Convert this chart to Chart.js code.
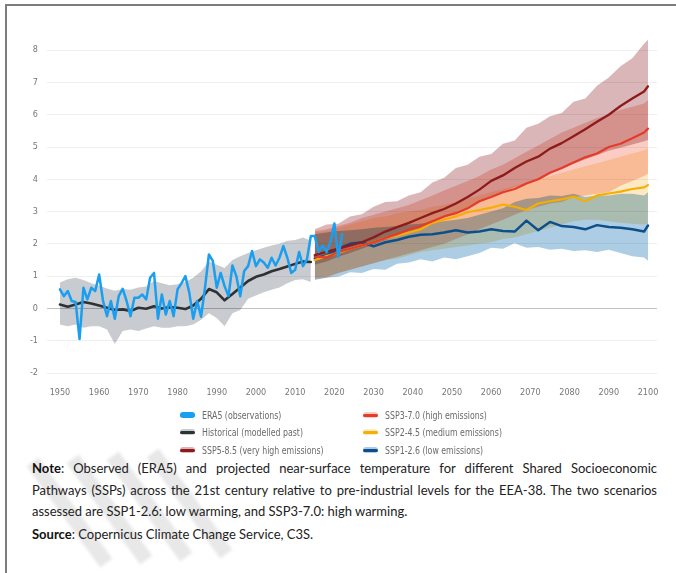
<!DOCTYPE html>
<html>
<head>
<meta charset="utf-8">
<script src="https://cdn.jsdelivr.net/npm/chart.js@4.4.1/dist/chart.umd.min.js"></script>
<style>
  html, body { margin: 0; padding: 0; background: #fff; }
  #page { position: relative; width: 676px; height: 573px; overflow: hidden; }
  #frame { position: absolute; left: 5px; top: 4px; right: -4px; bottom: -4px; border-top: 2px solid #7d7d7d; border-left: 2px solid #7d7d7d; }
  #c { position: absolute; left: 0; top: 0; }
  .wm { position: absolute; width: 15px; height: 125px; background: #e8e8e8; transform: rotate(-36deg); filter: blur(1.5px); }
  .lg { position: absolute; height: 12px; display: flex; align-items: center; font-family: 'DejaVu Sans Condensed', 'DejaVu Sans', sans-serif; font-size: 10px; color: #6a6a6a; white-space: nowrap; }
  .lg span.t { display: inline-block; transform: scaleX(0.87); transform-origin: 0 50%; }
  .sw { position: relative; width: 15px; height: 6px; border-radius: 3px; margin-right: 7px; }
  .sw i { position: absolute; left: 0; right: 0; top: 1.5px; height: 3px; border-radius: 2px; }
  #note { position: absolute; left: 32px; top: 458px; width: 625px; font-family: Lato, 'Open Sans', sans-serif; font-size: 13px; line-height: 21.5px; color: #222; }
  #note .j { text-align: justify; text-align-last: justify; }
  #note b { font-weight: 700; color: #111; }
  #note .src { margin-top: 1.5px; }
</style>
</head>
<body>
<div id="page">
  <div id="frame"></div>
  <div class="wm" style="left:62px;top:450px"></div>
  <div class="wm" style="left:102px;top:447px"></div>
  <div class="wm" style="left:142px;top:444px"></div>
  <div class="wm" style="left:182px;top:441px"></div>
  <canvas id="c" width="676" height="400"></canvas>
  <div id="legend"></div>
  <div id="note">
    <div class="j"><b>Note</b>: Observed (ERA5) and projected near-surface temperature for different Shared Socioeconomic</div>
    <div class="j">Pathways (SSPs) across the 21st century relative to pre-industrial levels for the EEA-38. The two scenarios</div>
    <div>assessed are SSP1-2.6: low warming, and SSP3-7.0: high warming.</div>
    <div class="src"><b>Source</b>: Copernicus Climate Change Service, C3S.</div>
  </div>
</div>
<script>
// axis ticks
var xTicks = [1950, 1960, 1970, 1980, 1990, 2000, 2010, 2020, 2030, 2040, 2050, 2060, 2070, 2080, 2090, 2100];
var yTicks = [-2, -1, 0, 1, 2, 3, 4, 5, 6, 7, 8];

// ERA5 observations, one value per year from 1950
var eraStart = 1950;
var era5 = [0.59, 0.38, 0.54, 0.23, 0.2, -0.95, 0.64, 0.28, 0.64, 0.54,
            1.05, 0.23, -0.24, 0.23, -0.32, 0.38, 0.61, 0.23, -0.24, 0.33,
            0.33, 0.43, 0.28, 0.95, 1.1, -0.32, 0.43, -0.19, 0.23, -0.24,
            0.59, 0.78, 1.0, 0.49, -0.32, 0.23, -0.26, 0.64, 1.67, 1.47,
            0.64, 1.1, 0.69, 0.38, 1.33, 1.0, 0.38, 1.16, 1.31, 1.78,
            1.31, 1.52, 1.42, 1.26, 1.57, 1.33, 1.57, 1.93, 1.57, 1.1,
            1.2, 1.75, 1.31, 1.52, 2.24, 2.24, 1.75, 1.95, 1.75, 2.05,
            2.63, 1.6, 2.3];

// Historical (modelled past)
var histYears = [1950, 1952, 1954, 1956, 1958, 1960, 1962, 1964, 1966, 1968, 1970, 1972, 1974, 1976, 1978, 1980, 1982,
                 1984, 1986, 1988, 1990, 1992, 1994, 1996, 1998, 2000, 2002, 2004, 2006, 2008, 2010, 2012, 2014];
var histMid = [0.12, 0.05, 0.12, 0.2, 0.15, 0.09, 0.02, -0.05, -0.03, -0.08, 0.02, -0.01, 0.07, 0.0, 0.04, 0.02, -0.02,
               0.09, 0.3, 0.6, 0.5, 0.25, 0.45, 0.65, 0.85, 0.98, 1.05, 1.15, 1.22, 1.3, 1.38, 1.45, 1.44];
var histHigh = [0.8, 0.9, 0.95, 0.88, 0.78, 0.7, 0.62, 0.55, 0.6, 0.58, 0.65, 0.68, 0.85, 0.78, 0.72, 0.75, 0.82,
                0.95, 1.15, 1.45, 1.35, 1.25, 1.5, 1.62, 1.72, 1.8, 1.88, 1.95, 2.0, 2.1, 2.12, 2.2, 2.1];
var histLow = [-0.5, -0.55, -0.5, -0.6, -0.55, -0.55, -0.65, -1.1, -0.7, -0.65, -0.7, -0.62, -0.55, -0.6, -0.6, -0.55, -0.55,
               -0.5, -0.35, -0.15, -0.3, -0.55, -0.15, -0.05, 0.3, 0.4, 0.5, 0.58, 0.65, 0.78, 0.88, 0.9, 0.82];

// Projections
var projYears = [2015, 2018, 2021, 2024, 2027, 2030, 2033, 2036, 2039, 2042, 2045, 2048, 2051, 2054, 2057,
                 2060, 2063, 2066, 2069, 2072, 2075, 2078, 2081, 2084, 2087, 2090, 2093, 2096, 2099, 2100];

var ssp585 = [1.65, 1.75, 1.85, 1.95, 2.05, 2.2, 2.38, 2.52, 2.65, 2.8, 2.95, 3.08, 3.25, 3.45, 3.68,
              3.95, 4.12, 4.35, 4.55, 4.7, 4.95, 5.12, 5.33, 5.55, 5.78, 6.0, 6.27, 6.5, 6.72, 6.88];
var ssp585High = [2.45, 2.6, 2.62, 2.85, 2.92, 3.15, 3.3, 3.32, 3.5, 3.6, 3.9, 4.05, 4.35, 4.45, 4.7,
                  4.78, 5.1, 5.2, 5.6, 5.72, 5.95, 6.05, 6.4, 6.5, 6.9, 7.15, 7.5, 7.75, 8.2, 8.32];
var ssp585Low = [1.35, 1.45, 1.6, 1.72, 1.85, 1.98, 2.12, 2.25, 2.38, 2.5, 2.65, 2.82, 2.98, 3.12, 3.32,
                 3.48, 3.62, 3.75, 3.88, 4.0, 4.18, 4.32, 4.48, 4.62, 4.75, 4.88, 4.98, 5.08, 5.18, 5.22];

var ssp370 = [1.6, 1.58, 1.75, 1.85, 1.95, 2.05, 2.18, 2.3, 2.45, 2.55, 2.7, 2.85, 2.95, 3.1, 3.32,
              3.45, 3.6, 3.7, 3.87, 4.0, 4.2, 4.35, 4.52, 4.68, 4.8, 5.0, 5.1, 5.27, 5.45, 5.57];
var ssp370High = [2.4, 2.45, 2.55, 2.65, 2.8, 2.9, 3.0, 3.1, 3.2, 3.35, 3.5, 3.65, 3.8, 3.95, 4.1,
                  4.3, 4.45, 4.65, 4.85, 5.05, 5.25, 5.45, 5.6, 5.75, 5.9, 6.0, 6.15, 6.25, 6.35, 6.45];
var ssp370Low = [0.9, 0.95, 1.1, 1.2, 1.3, 1.4, 1.5, 1.6, 1.7, 1.8, 1.9, 2.0, 2.15, 2.3, 2.45,
                 2.6, 2.75, 2.9, 3.05, 3.15, 3.25, 3.3, 3.45, 3.5, 3.55, 3.6, 3.8, 3.95, 4.1, 4.17];

var ssp245 = [1.5, 1.62, 1.72, 1.85, 1.95, 2.05, 2.18, 2.25, 2.35, 2.45, 2.65, 2.75, 2.85, 2.98, 3.05,
              3.12, 3.22, 3.15, 3.05, 3.25, 3.32, 3.38, 3.46, 3.32, 3.5, 3.56, 3.62, 3.7, 3.75, 3.82];
var ssp245High = [2.35, 2.4, 2.5, 2.6, 2.7, 2.8, 2.85, 2.95, 3.0, 3.05, 3.15, 3.2, 3.3, 3.4, 3.5,
                  3.6, 3.7, 3.8, 3.9, 4.0, 4.1, 4.2, 4.3, 4.4, 4.5, 4.6, 4.7, 4.8, 4.9, 4.95];
var ssp245Low = [0.95, 1.0, 1.1, 1.2, 1.3, 1.4, 1.5, 1.55, 1.65, 1.75, 1.8, 1.85, 1.9, 1.95, 2.0,
                 2.05, 2.15, 2.2, 2.3, 2.4, 2.5, 2.6, 2.7, 2.75, 2.75, 2.7, 2.65, 2.62, 2.6, 2.62];

var ssp126 = [1.55, 1.64, 1.85, 2.0, 2.05, 1.92, 2.05, 2.12, 2.22, 2.28, 2.3, 2.35, 2.42, 2.35, 2.38,
              2.45, 2.4, 2.38, 2.72, 2.42, 2.68, 2.55, 2.52, 2.45, 2.58, 2.52, 2.5, 2.45, 2.38, 2.57];
var ssp126High = [2.3, 2.35, 2.4, 2.42, 2.45, 2.5, 2.52, 2.55, 2.6, 2.62, 2.68, 2.7, 2.75, 2.8, 2.9,
                  3.0, 3.1, 3.3, 3.4, 3.42, 3.5, 3.48, 3.55, 3.45, 3.5, 3.5, 3.55, 3.55, 3.5, 3.6];
var ssp126Low = [0.88, 0.95, 0.98, 1.12, 1.1, 1.22, 1.2, 1.38, 1.42, 1.52, 1.45, 1.58, 1.52, 1.62, 1.72,
                 1.88, 1.85, 2.02, 1.88, 1.9, 1.82, 1.85, 1.78, 1.8, 1.75, 1.82, 1.72, 1.62, 1.58, 1.48];

var series = [
  { label: 'ERA5 (observations)', line: '#1a9ff0', band: null },
  { label: 'SSP3-7.0 (high emissions)', line: '#e63a2a', band: 'rgb(250,204,194)' },
  { label: 'Historical (modelled past)', line: '#2e3235', band: 'rgb(200,203,208)' },
  { label: 'SSP2-4.5 (medium emissions)', line: '#f6ae00', band: 'rgb(253,234,196)' },
  { label: 'SSP5-8.5 (very high emissions)', line: '#8e1b1b', band: 'rgb(218,182,184)' },
  { label: 'SSP1-2.6 (low emissions)', line: '#0d4f8a', band: 'rgb(172,205,228)' }
];
var col = {};
series.forEach(function (s) { col[s.label.split(' ')[0]] = s; });

function pts(xs, ys) {
  return xs.map(function (x, i) { return { x: x, y: ys[i] }; });
}
function line(label, xs, ys, color, w) {
  return { label: label, data: pts(xs, ys), borderColor: color, borderWidth: w, pointRadius: 0,
           fill: false, borderJoinStyle: 'round', borderCapStyle: 'round' };
}
function band(label, xs, hi, lo, color) {
  return [
    { label: label + ' high', data: pts(xs, hi), fill: '+1', backgroundColor: color,
      borderColor: 'rgba(0,0,0,0)', borderWidth: 0, pointRadius: 0 },
    { label: label + ' low', data: pts(xs, lo), fill: false,
      borderColor: 'rgba(0,0,0,0)', borderWidth: 0, pointRadius: 0 }
  ];
}

var eraYears = era5.map(function (v, i) { return eraStart + i; });

var datasets = [
  line('ERA5', eraYears, era5, col['ERA5'].line, 2.5),
  line('Historical', histYears, histMid, col['Historical'].line, 2.6),
  line('SSP5-8.5', projYears, ssp585, col['SSP5-8.5'].line, 2.3),
  line('SSP3-7.0', projYears, ssp370, col['SSP3-7.0'].line, 2.2),
  line('SSP2-4.5', projYears, ssp245, col['SSP2-4.5'].line, 2.2),
  line('SSP1-2.6', projYears, ssp126, col['SSP1-2.6'].line, 2.5)
].concat(
  band('Historical', histYears, histHigh, histLow, col['Historical'].band),
  band('SSP5-8.5', projYears, ssp585High, ssp585Low, col['SSP5-8.5'].band),
  band('SSP3-7.0', projYears, ssp370High, ssp370Low, col['SSP3-7.0'].band),
  band('SSP2-4.5', projYears, ssp245High, ssp245Low, col['SSP2-4.5'].band),
  band('SSP1-2.6', projYears, ssp126High, ssp126Low, col['SSP1-2.6'].band)
);

// shaded ranges blend like overlapping transparencies; lines stay normal
var multiplyBands = {
  id: 'multiplyBands',
  beforeDatasetsDraw: function (chart) { chart.ctx.globalCompositeOperation = 'multiply'; },
  beforeDatasetDraw: function (chart) { chart.ctx.globalCompositeOperation = 'source-over'; },
  afterDatasetDraw: function (chart) { chart.ctx.globalCompositeOperation = 'multiply'; },
  afterDatasetsDraw: function (chart) { chart.ctx.globalCompositeOperation = 'source-over'; }
};

var tickFont = { family: "'DejaVu Sans Condensed', 'DejaVu Sans', sans-serif", size: 9 };

new Chart(document.getElementById('c'), {
  type: 'line',
  data: { datasets: datasets },
  options: {
    responsive: false,
    animation: false,
    layout: { padding: { top: 34, right: 19, left: 0, bottom: 0 } },
    elements: { line: { tension: 0 } },
    plugins: { legend: { display: false }, tooltip: { enabled: false } },
    scales: {
      x: {
        type: 'linear', min: 1946.7, max: 2102.3,
        grid: { display: false, drawTicks: false },
        border: { display: false },
        afterBuildTicks: function (s) { s.ticks = xTicks.map(function (v) { return { value: v }; }); },
        afterFit: function (s) { s.height = 27; },
        ticks: { autoSkip: false, maxRotation: 0, padding: 14, color: '#777', font: tickFont,
                 callback: function (v) { return String(v); } }
      },
      y: {
        min: -2, max: 8.5,
        grid: { drawTicks: false, lineWidth: 1,
                color: function (c) { return c.tick && c.tick.value === 0 ? '#c2c2c2' : '#efefef'; } },
        border: { display: false },
        afterBuildTicks: function (s) { s.ticks = yTicks.map(function (v) { return { value: v }; }); },
        afterFit: function (s) { s.width = 47; },
        ticks: { padding: 9, color: '#777', font: tickFont, callback: function (v) { return String(v); } }
      }
    }
  },
  plugins: [multiplyBands]
});

// legend, two columns
var legend = document.getElementById('legend');
var colX = [180, 363];
var rowY = [409, 426, 444];
series.forEach(function (s, i) {
  var el = document.createElement('div');
  el.className = 'lg';
  el.style.left = colX[i % 2] + 'px';
  el.style.top = rowY[Math.floor(i / 2)] + 'px';
  var sw = document.createElement('span');
  sw.className = 'sw';
  sw.style.background = s.band || s.line;
  var ln = document.createElement('i');
  ln.style.background = s.line;
  sw.appendChild(ln);
  el.appendChild(sw);
  var t = document.createElement('span');
  t.className = 't';
  t.textContent = s.label;
  el.appendChild(t);
  legend.appendChild(el);
});
</script>
</body>
</html>
